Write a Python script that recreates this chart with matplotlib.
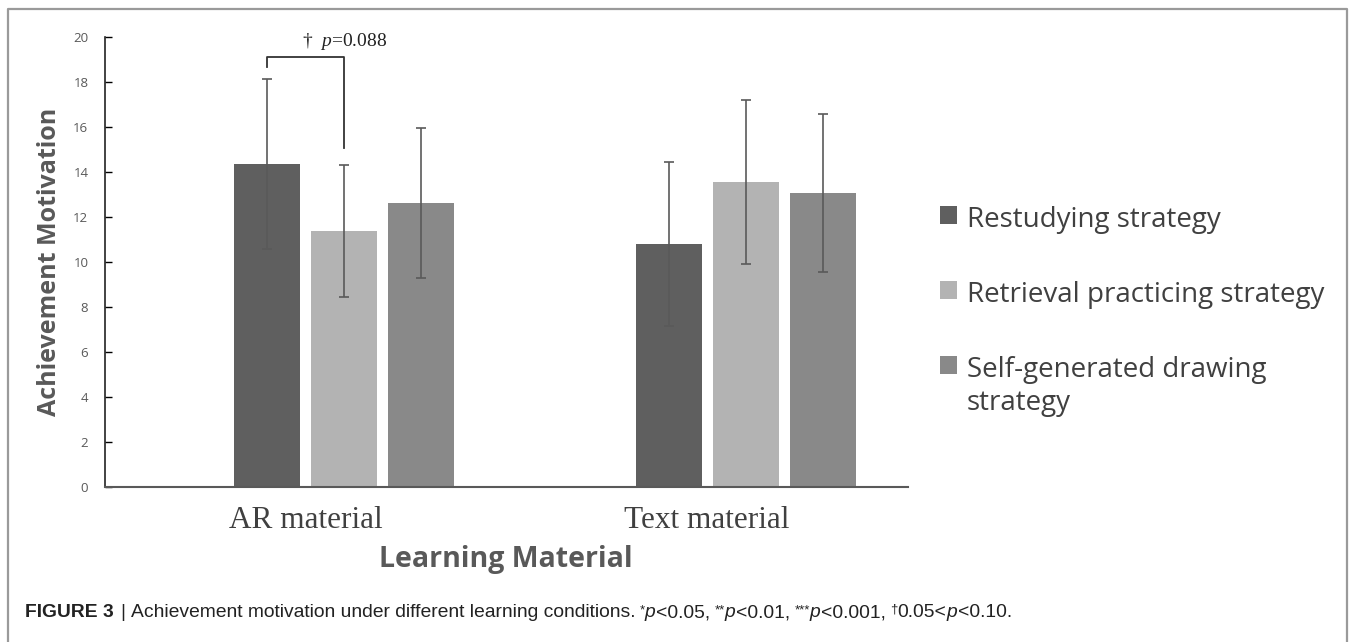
import matplotlib
matplotlib.use('Agg')
import matplotlib.pyplot as plt
from matplotlib.lines import Line2D
import numpy as np

plt.rcParams['mathtext.fontset'] = 'custom'
plt.rcParams['mathtext.it'] = 'Liberation Serif:italic'
plt.rcParams['mathtext.rm'] = 'Liberation Serif'

# data
materials = ['AR material', 'Text material']
strategies = ['Restudying strategy', 'Retrieval practicing strategy',
              'Self-generated drawing\nstrategy']
means = {
    'Restudying strategy': [14.36, 10.80],
    'Retrieval practicing strategy': [11.38, 13.56],
    'Self-generated drawing\nstrategy': [12.62, 13.07],
}
errs = {
    'Restudying strategy': [3.77, 3.64],
    'Retrieval practicing strategy': [2.93, 3.66],
    'Self-generated drawing\nstrategy': [3.34, 3.51],
}
colors = ['#5f5f5f', '#b3b3b3', '#898989']
yticks = [0, 2, 4, 6, 8, 10, 12, 14, 16, 18, 20]

fig = plt.figure(figsize=(13.55, 6.42), dpi=100)
ax = fig.add_axes([105/1355, 1-487/642, 803/1355, 450/642])

x = np.arange(len(materials))
step = 0.1918
width = 0.164
offsets = [-0.5, 0.5, 1.5]

handles = []
for i, s in enumerate(strategies):
    b = ax.bar(x + offsets[i]*step, means[s], width, color=colors[i], label=s, zorder=2)
    ax.errorbar(x + offsets[i]*step, means[s], yerr=errs[s], fmt='none',
                ecolor='#5a5a5a', elinewidth=1.2, capsize=3.5, capthick=1.2, zorder=3)
    handles.append(b)

ax.set_xlim(-0.5, 1.5)
ax.set_ylim(0, 20)
ax.set_yticks(yticks)
ax.set_xticks(x)
ax.set_xticklabels(materials, family='Liberation Serif', fontsize=22.5, color='#404040')
ax.tick_params(axis='x', length=0, pad=14)
ax.tick_params(axis='y', direction='in', length=5, width=1, pad=12,
               labelsize=9.5, labelcolor='#595959')
for lab in ax.get_yticklabels():
    lab.set_family('Open Sans')
for sp in ['top', 'right']:
    ax.spines[sp].set_visible(False)
ax.spines['left'].set_color('#222222')
ax.spines['left'].set_linewidth(1.2)
ax.spines['bottom'].set_color('#595959')
ax.spines['bottom'].set_linewidth(1.5)

# significance bracket
x1 = offsets[0]*step
x2 = offsets[1]*step
ax.plot([x1, x1, x2, x2], [18.65, 19.1, 19.1, 15.05], color='#333333', lw=1.3,
        clip_on=False, zorder=4)
ax.text(x2, 19.8, '†  $p$=0.088', family='Liberation Serif',
        fontsize=14, ha='center', va='center', color='#222222')

fig.text(49/1355, 1-262/642, 'Achievement Motivation', rotation=90, ha='center',
         va='center', family='Open Sans', fontweight='bold', fontsize=18, color='#595959')
fig.text(506/1355, 1-560/642, 'Learning Material', ha='center', va='center',
         family='Open Sans', fontweight='bold', fontsize=20.5, color='#595959')

leg = fig.legend(handles, strategies, loc='upper left', bbox_to_anchor=(940/1355, 1-206/642),
                 frameon=False, prop={'family': 'Open Sans', 'size': 20},
                 handlelength=0.6, handleheight=0.6, handletextpad=0.36, labelspacing=1.7,
                 borderpad=0, borderaxespad=0, labelcolor='#404040')
# put the square beside the first line of the two-line entry
for col in leg._legend_handle_box.get_children():
    for row in col.get_children():
        row.align = 'top'

# frame around the figure
fc = '#9a9a9a'
fig.add_artist(Line2D([8/1355, 8/1355, 1347/1355, 1347/1355], [0, 1-9/642, 1-9/642, 0],
                      color=fc, lw=1.6, transform=fig.transFigure))

# caption, drawn in pieces
segments = [
    ('FIGURE 3', 'bold', 'normal', 0),
    ('|', 'normal', 'normal', 6),
    ('Achievement motivation under different learning conditions.', 'normal', 'normal', 6),
    ('*', 'normal', 'normal', 4),
    ('p', 'normal', 'italic', 0),
    ('<0.05,', 'normal', 'normal', 1),
    ('**', 'normal', 'normal', 4),
    ('p', 'normal', 'italic', 0),
    ('<0.01,', 'normal', 'normal', 1),
    ('***', 'normal', 'normal', 4),
    ('p', 'normal', 'italic', 0),
    ('<0.001,', 'normal', 'normal', 1),
    ('†', 'normal', 'normal', 4),
    ('0.05<', 'normal', 'normal', 0),
    ('p', 'normal', 'italic', 0),
    ('<0.10.', 'normal', 'normal', 1),
]
cap_family = ['Liberation Sans Narrow', 'Liberation Sans']
xpos = 25
ybase = 1 - 617/642
renderer = fig.canvas.get_renderer()
for txt, wt, st, gap in segments:
    xpos += gap
    size = 9.5 if txt in ('*', '**', '***', '†') else 13.85
    dy = 4/642 if txt in ('*', '**', '***', '†') else 0
    t = fig.text(xpos/1355, ybase + dy, txt, family=cap_family, fontweight=wt, style=st,
                 fontsize=size, color='#222222', va='baseline', ha='left')
    bb = t.get_window_extent(renderer=renderer)
    xpos = bb.x1

fig.savefig('out.png', dpi=100)
